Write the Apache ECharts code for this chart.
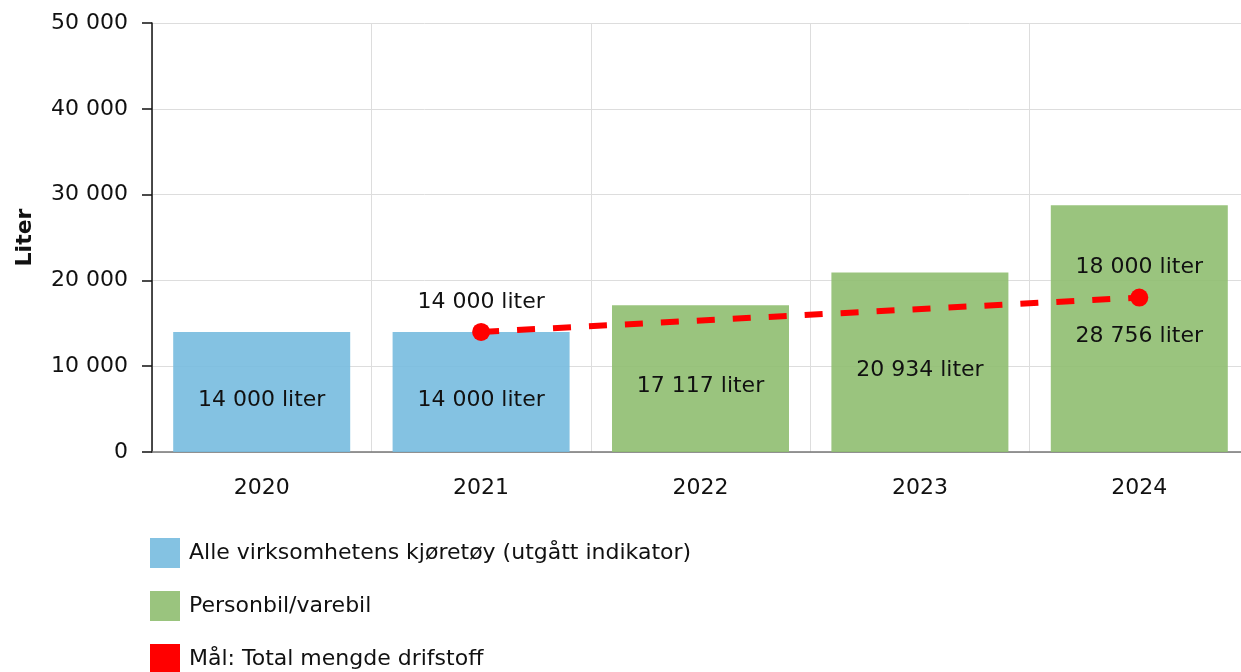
<!DOCTYPE html>
<html>
<head>
<meta charset="utf-8">
<script src="https://cdn.jsdelivr.net/npm/echarts@6/dist/echarts.min.js"></script>
<style>
  html, body { margin: 0; padding: 0; background: #fff; }
  #chart { width: 1241px; height: 672px; }
</style>
</head>
<body>
<div id="chart"></div>
<script>
  // categories and values
  var years = ['2020', '2021', '2022', '2023', '2024'];
  var alleKjoretoy = [14000, 14000, null, null, null];
  var personbil = [null, null, 17117, 20934, 28756];
  var maal = [null, 14000, null, null, 18000];
  var yTicks = [0, 10000, 20000, 30000, 40000, 50000];
  var legendNames = ['Alle virksomhetens kjøretøy (utgått indikator)', 'Personbil/varebil', 'Mål: Total mengde drifstoff'];

  var fontFamily = '"DejaVu Sans", Verdana, sans-serif';
  var fs = 22;

  function fmt(v) {
    return String(v).replace(/\B(?=(\d{3})+(?!\d))/g, ' ');
  }

  // one legend per row so the last row may run past the bottom edge like the original
  var legends = legendNames.map(function (name, i) {
    return {
      orient: 'vertical',
      left: 145,
      top: 533 + i * 53,
      icon: 'rect',
      itemWidth: 30,
      itemHeight: 30,
      textStyle: { fontSize: fs, color: '#111', fontFamily: fontFamily, padding: [0, 0, 0, 4] },
      data: [name]
    };
  });

  var chartDom = document.getElementById('chart');
  var myChart = echarts.init(chartDom);
  var option;
  option = {
    animation: false,
    textStyle: { fontFamily: fontFamily, color: '#111' },
    grid: { left: 152, top: 23, width: 1097, height: 429, outerBoundsMode: 'none' },
    legend: legends,
    xAxis: {
      type: 'category',
      data: years,
      axisLine: { lineStyle: { color: '#777', width: 1.5 } },
      axisTick: { alignWithLabel: true, length: 8, lineStyle: { color: '#999' } },
      axisLabel: { fontSize: fs, color: '#111', margin: 25 },
      splitLine: { show: true, lineStyle: { color: '#ddd', width: 1 } }
    },
    yAxis: {
      type: 'value',
      min: yTicks[0],
      max: yTicks[yTicks.length - 1],
      interval: 10000,
      name: 'Liter',
      nameLocation: 'middle',
      nameGap: 116,
      nameTextStyle: { fontSize: fs, fontWeight: 'bold', color: '#111' },
      axisLine: { show: true, lineStyle: { color: '#111', width: 1.5 } },
      axisTick: { show: true, length: 10, lineStyle: { color: '#111', width: 1.5 } },
      axisLabel: { fontSize: fs, color: '#111', margin: 24, formatter: function (v) { return fmt(v); } },
      splitLine: { lineStyle: { color: '#ddd', width: 1 } }
    },
    series: [
      {
        name: legendNames[0],
        type: 'bar',
        stack: 'a',
        barWidth: 177,
        data: alleKjoretoy,
        itemStyle: { color: 'rgba(119,187,223,0.9)' },
        label: {
          show: true,
          position: 'inside',
          offset: [0, 8],
          fontSize: fs,
          color: '#111',
          formatter: function (p) { return fmt(p.value) + ' liter'; }
        }
      },
      {
        name: legendNames[1],
        type: 'bar',
        stack: 'a',
        barWidth: 177,
        data: personbil,
        itemStyle: { color: 'rgba(143,190,112,0.9)' },
        label: {
          show: true,
          position: 'inside',
          offset: [0, 8],
          fontSize: fs,
          color: '#111',
          formatter: function (p) { return fmt(p.value) + ' liter'; }
        }
      },
      {
        name: legendNames[2],
        type: 'line',
        data: maal,
        connectNulls: true,
        symbol: 'circle',
        symbolSize: 18,
        z: 5,
        itemStyle: { color: '#ff0000' },
        lineStyle: { color: '#ff0000', width: 6, type: [18, 18] },
        label: {
          show: true,
          position: 'top',
          distance: 10,
          fontSize: fs,
          color: '#111',
          formatter: function (p) { return fmt(p.value) + ' liter'; }
        }
      }
    ]
  };

  option && myChart.setOption(option);
</script>
</body>
</html>
